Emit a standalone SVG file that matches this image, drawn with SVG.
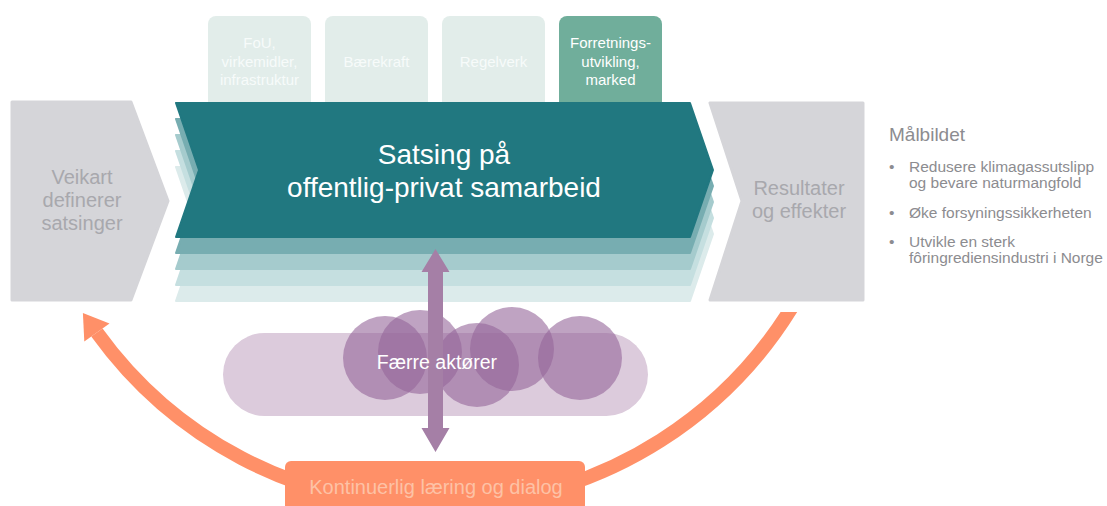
<svg xmlns="http://www.w3.org/2000/svg" width="1107" height="506" viewBox="0 0 1107 506">
<style>
text{font-family:"Liberation Sans",Arial,sans-serif;text-anchor:middle}
.tab{fill:#e2edea}
.tabt{fill:#f7fbfa;font-size:15px}
.tab4{fill:#70ae9b}
.tab4t{fill:#ffffff;font-size:15px}
.gray{fill:#d5d5d9;stroke:#d5d5d9;stroke-width:3;stroke-linejoin:round}
.grayt{fill:#a8a8ad;font-size:20px}
.main{stroke-width:2;stroke-linejoin:round}
.side{fill:#8c8c90;text-anchor:start}
.circ{fill:#94659a;fill-opacity:0.6}
</style>
<defs>
<path id="chev" d="M176,103 H690 L713,170 L690,237 H176 L199,170 Z"/>
<clipPath id="arcclip"><rect x="0" y="312" width="1107" height="194"/></clipPath>
</defs>

<g id="tab-fou">
<rect class="tab" x="208" y="16" width="103" height="100" rx="8"/>
<text class="tabt" x="259.5" y="48">FoU,</text>
<text class="tabt" x="259.5" y="67">virkemidler,</text>
<text class="tabt" x="259.5" y="85">infrastruktur</text>
</g>
<g id="tab-baerekraft">
<rect class="tab" x="325" y="16" width="103" height="100" rx="8"/>
<text class="tabt" x="376.5" y="67">Bærekraft</text>
</g>
<g id="tab-regelverk">
<rect class="tab" x="442" y="16" width="103" height="100" rx="8"/>
<text class="tabt" x="493.5" y="67">Regelverk</text>
</g>
<g id="tab-forretning">
<rect class="tab4" x="559" y="16" width="103" height="100" rx="8"/>
<text class="tab4t" x="610.5" y="48">Forretnings-</text>
<text class="tab4t" x="610.5" y="67">utvikling,</text>
<text class="tab4t" x="610.5" y="85">marked</text>
</g>

<g id="veikart">
<path class="gray" d="M12,102 H131 L168,201 L131,300 H12 Z"/>
<text class="grayt" x="82" y="184">Veikart</text>
<text class="grayt" x="82" y="207">definerer</text>
<text class="grayt" x="82" y="230">satsinger</text>
</g>

<g id="resultater">
<path class="gray" d="M710,103 H863 V300 H710 L742,201 Z"/>
<text class="grayt" x="799" y="195">Resultater</text>
<text class="grayt" x="799" y="218">og effekter</text>
</g>

<g id="satsing">
<use href="#chev" class="main" transform="translate(0,64)" fill="#dcebeb" stroke="#dcebeb"/>
<use href="#chev" class="main" transform="translate(0,48)" fill="#c5dfe0" stroke="#c5dfe0"/>
<use href="#chev" class="main" transform="translate(0,32)" fill="#a5cbcd" stroke="#a5cbcd"/>
<use href="#chev" class="main" transform="translate(0,16)" fill="#77adb1" stroke="#77adb1"/>
<use href="#chev" class="main" fill="#217880" stroke="#217880"/>
<text x="444" y="164" font-size="28" fill="#ffffff">Satsing på</text>
<text x="444" y="197" font-size="28" fill="#ffffff">offentlig-privat samarbeid</text>
</g>

<g id="malbildet">
<text class="side" x="889" y="141" font-size="19">Målbildet</text>
<g font-size="15.5">
<text class="side" x="889" y="172">•</text>
<text class="side" x="909" y="172">Redusere klimagassutslipp</text>
<text class="side" x="909" y="188">og bevare naturmangfold</text>
<text class="side" x="889" y="218">•</text>
<text class="side" x="909" y="218">Øke forsyningssikkerheten</text>
<text class="side" x="889" y="247">•</text>
<text class="side" x="909" y="247">Utvikle en sterk</text>
<text class="side" x="909" y="263">fôringrediensindustri i Norge</text>
</g>
</g>

<g id="connectors">
<path d="M794.3,303.3 A418,418 0 0 1 96.9,332.5" fill="none" stroke="#ff9068" stroke-width="14" clip-path="url(#arcclip)"/>
<polygon points="82.9,313 109.5,323.4 84.3,341.6" fill="#ff9068"/>
</g>

<g id="aktorer">
<rect x="223" y="333" width="425" height="83" rx="41.5" fill="#dccbdc"/>
<circle class="circ" cx="385" cy="358" r="42"/>
<circle class="circ" cx="420" cy="352" r="42"/>
<circle class="circ" cx="477" cy="365" r="42"/>
<circle class="circ" cx="512" cy="349" r="42"/>
<circle class="circ" cx="580" cy="358" r="42"/>
<polygon points="435.5,249 449.5,272 443,272 443,428 449.5,428 435.5,452 421.5,428 428,428 428,272 421.5,272" fill="#a57fa6"/>
<text x="437" y="369" font-size="19.5" fill="#ffffff">Færre aktører</text>
</g>

<g id="laering">
<rect x="285" y="461" width="300" height="60" rx="6" fill="#ff9068"/>
<text x="436" y="494" font-size="20" fill="#fdc2a6">Kontinuerlig læring og dialog</text>
</g>
</svg>
